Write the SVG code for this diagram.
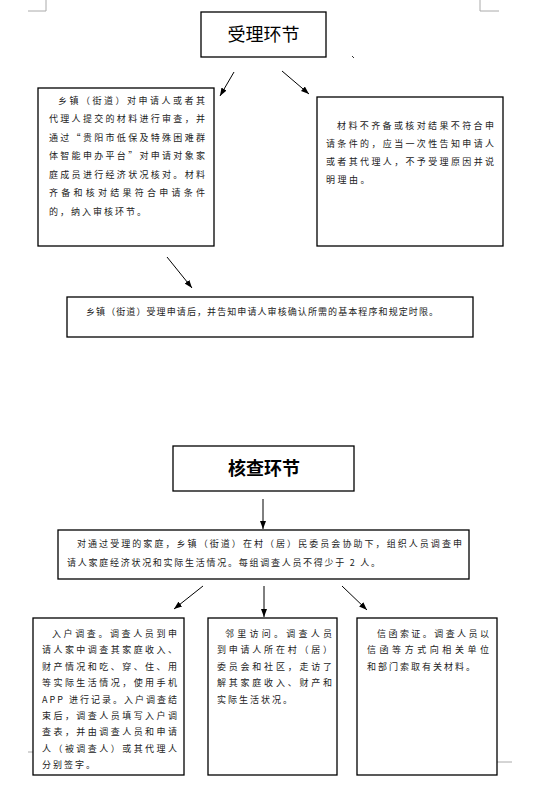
<svg xmlns="http://www.w3.org/2000/svg" width="536" height="795" viewBox="0 0 536 795">
<style>
.box{fill:#fff;stroke:#000;stroke-width:1.3}
.t{font-family:"Noto Sans CJK SC","Noto Sans CJK JP",sans-serif;font-size:9px;fill:#222}
.h{font-family:"Noto Sans CJK SC","Noto Sans CJK JP",sans-serif;font-size:18px;fill:#000;text-anchor:middle}
.c{stroke:#000;stroke-width:1;fill:none;marker-end:url(#ah)}
.m{stroke:#aaa;stroke-width:1;fill:none}
</style>
<defs>
<marker id="ah" markerUnits="userSpaceOnUse" markerWidth="8" markerHeight="6" refX="8" refY="3" orient="auto">
<path d="M0,0 L8,3 L0,6 z" fill="#000"/>
</marker>
</defs>
<rect width="536" height="795" fill="#fff"/>
<g id="marks">
<path class="m" d="M28,11 H46 V0 M480,0 V11 H499 M28,752 H45 M497,762 H512"/>
<path d="M352,56 L354,58" stroke="#333" stroke-width="1"/>
</g>
<g id="connectors">
<line class="c" x1="234" y1="72" x2="220" y2="96"/>
<line class="c" x1="282" y1="71" x2="309" y2="94"/>
<line class="c" x1="167" y1="257" x2="192" y2="288"/>
<line class="c" x1="263" y1="499" x2="263" y2="529"/>
<line class="c" x1="203" y1="586" x2="174" y2="609"/>
<line class="c" x1="264" y1="586" x2="264" y2="617"/>
<line class="c" x1="342" y1="586" x2="367" y2="610"/>
</g>
<g id="n1">
<rect class="box" x="201" y="12" width="125" height="45"/>
<text class="h" x="263.5" y="41">受理环节</text>
</g>
<g id="n2">
<rect class="box" x="38" y="88" width="176" height="158"/>
<text class="t" x="58" y="104" textLength="147" lengthAdjust="spacing">乡镇（街道）对申请人或者其</text>
<text class="t" x="49" y="122" textLength="156" lengthAdjust="spacing">代理人提交的材料进行审查，并</text>
<text class="t" x="49" y="141" textLength="156" lengthAdjust="spacing">通过“贵阳市低保及特殊困难群</text>
<text class="t" x="49" y="159" textLength="156" lengthAdjust="spacing">体智能申办平台”对申请对象家</text>
<text class="t" x="49" y="178" textLength="156" lengthAdjust="spacing">庭成员进行经济状况核对。材料</text>
<text class="t" x="49" y="196" textLength="156" lengthAdjust="spacing">齐备和核对结果符合申请条件</text>
<text class="t" x="49" y="215" letter-spacing="2">的，纳入审核环节。</text>
</g>
<g id="n3">
<rect class="box" x="317" y="97" width="186" height="149"/>
<text class="t" x="337" y="129" textLength="157" lengthAdjust="spacing">材料不齐备或核对结果不符合申</text>
<text class="t" x="326" y="147" textLength="168" lengthAdjust="spacing">请条件的，应当一次性告知申请人</text>
<text class="t" x="326" y="165" textLength="168" lengthAdjust="spacing">或者其代理人，不予受理原因并说</text>
<text class="t" x="326" y="183" letter-spacing="2.5">明理由。</text>
</g>
<g id="n4">
<rect class="box" x="67" y="297" width="406" height="40"/>
<text class="t" x="86" y="315" textLength="352" lengthAdjust="spacing">乡镇（街道）受理申请后，并告知申请人审核确认所需的基本程序和规定时限。</text>
</g>
<g id="n5">
<rect class="box" x="173" y="446" width="181" height="45"/>
<text class="h" x="264" y="475" font-weight="bold">核查环节</text>
</g>
<g id="n6">
<rect class="box" x="58" y="530" width="411" height="49"/>
<text class="t" x="77" y="547" textLength="385" lengthAdjust="spacing">对通过受理的家庭，乡镇（街道）在村（居）民委员会协助下，组织人员调查申</text>
<text class="t" x="67" y="566" textLength="313" lengthAdjust="spacing">请人家庭经济状况和实际生活情况。每组调查人员不得少于 2 人。</text>
</g>
<g id="n7">
<rect class="box" x="33" y="618" width="151" height="157"/>
<text class="t" x="52" y="637" textLength="125" lengthAdjust="spacing">入户调查。调查人员到申</text>
<text class="t" x="42" y="653" textLength="135" lengthAdjust="spacing">请人家中调查其家庭收入、</text>
<text class="t" x="42" y="670" textLength="135" lengthAdjust="spacing">财产情况和吃、穿、住、用</text>
<text class="t" x="42" y="686" textLength="135" lengthAdjust="spacing">等实际生活情况，使用手机</text>
<text class="t" x="42" y="703" textLength="135" lengthAdjust="spacing">APP 进行记录。入户调查结</text>
<text class="t" x="42" y="719" textLength="135" lengthAdjust="spacing">束后，调查人员填写入户调</text>
<text class="t" x="42" y="735" textLength="135" lengthAdjust="spacing">查表，并由调查人员和申请</text>
<text class="t" x="42" y="752" textLength="135" lengthAdjust="spacing">人（被调查人）或其代理人</text>
<text class="t" x="42" y="768" letter-spacing="2">分别签字。</text>
</g>
<g id="n8">
<rect class="box" x="208" y="618" width="129" height="157"/>
<text class="t" x="225" y="637" textLength="107" lengthAdjust="spacing">邻里访问。调查人员</text>
<text class="t" x="217" y="653" textLength="115" lengthAdjust="spacing">到申请人所在村（居）</text>
<text class="t" x="217" y="670" textLength="115" lengthAdjust="spacing">委员会和社区，走访了</text>
<text class="t" x="217" y="686" textLength="115" lengthAdjust="spacing">解其家庭收入、财产和</text>
<text class="t" x="217" y="703" letter-spacing="2">实际生活状况。</text>
</g>
<g id="n9">
<rect class="box" x="357" y="618" width="140" height="157"/>
<text class="t" x="377" y="637" textLength="112" lengthAdjust="spacing">信函索证。调查人员以</text>
<text class="t" x="367" y="653" textLength="122" lengthAdjust="spacing">信函等方式向相关单位</text>
<text class="t" x="367" y="670" letter-spacing="2">和部门索取有关材料。</text>
</g>
</svg>
